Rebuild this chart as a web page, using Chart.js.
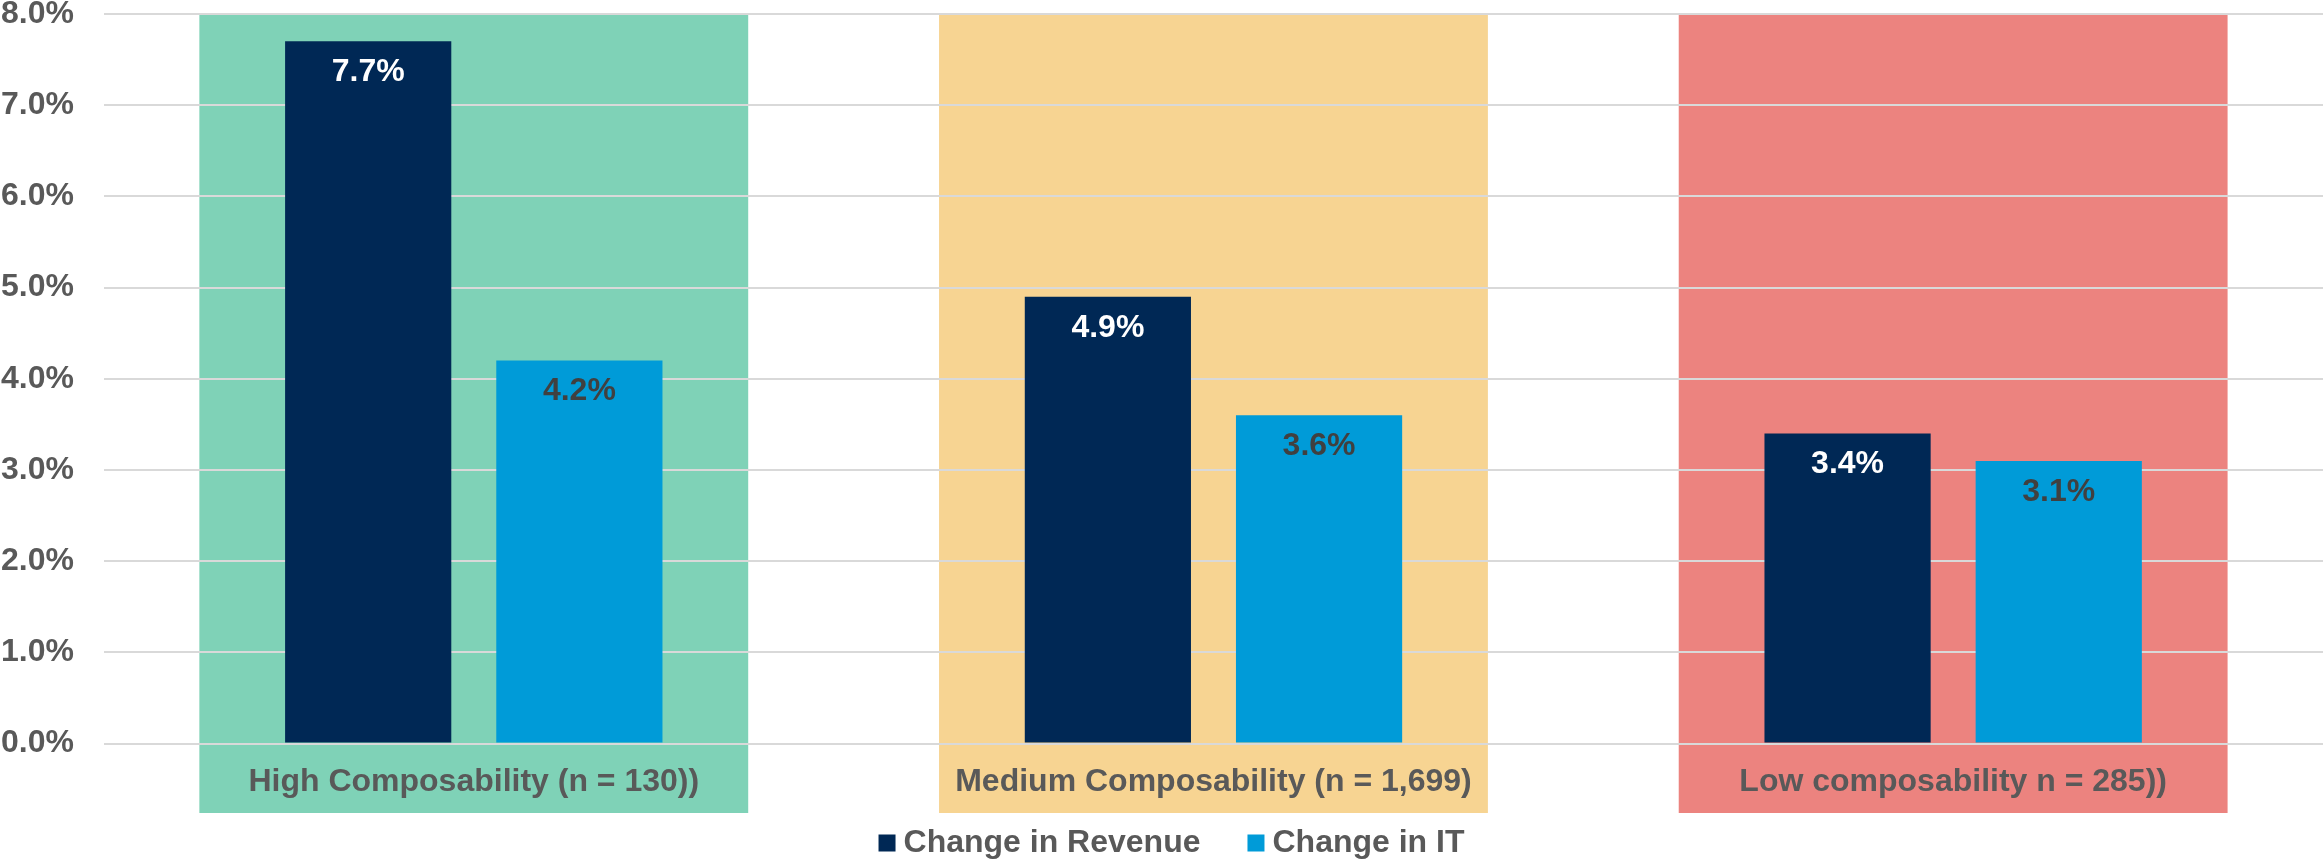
<!DOCTYPE html>
<html>
<head>
<meta charset="utf-8">
<title>Composability vs change in revenue and IT</title>
<script src="https://cdn.jsdelivr.net/npm/chart.js@4/dist/chart.umd.min.js"></script>
<style>
  html, body { margin: 0; padding: 0; background: #fff; }
  canvas { display: block; }
</style>
</head>
<body>
<canvas id="chart" width="2323" height="861"></canvas>
<script>
// Groups and their sample sizes
const categories = [
    'High Composability (n = 130))',
    'Medium Composability (n = 1,699)',
    'Low composability n = 285))'
];

// Percent change per group
const revenueChange = [7.7, 4.9, 3.4];
const itChange = [4.2, 3.6, 3.1];

// Y axis tick labels, 0% to 8%
const yTickLabels = ['0.0%', '1.0%', '2.0%', '3.0%', '4.0%', '5.0%', '6.0%', '7.0%', '8.0%'];

// Colored panel behind each group
const bandColors = ['#7fd2b7', '#f7d492', '#ec837f'];

const FONT = '"Liberation Sans", Arial, sans-serif';
const GRAY = '#595959';

// Paints a colored panel behind each category, running down over its label
const bandPlugin = {
    id: 'bands',
    beforeDraw(chart) {
        const { ctx, chartArea, scales } = chart;
        const x = scales.x;
        const step = x.width / categories.length;
        const half = step * 0.371;
        const bottom = x.bottom - 7;
        ctx.save();
        categories.forEach((c, i) => {
            const cx = x.getPixelForValue(i);
            ctx.fillStyle = bandColors[i];
            ctx.fillRect(cx - half, chartArea.top + 1, half * 2, bottom - chartArea.top - 1);
        });
        ctx.restore();
    }
};

// Writes each bar's value just inside its top edge
const valueLabelPlugin = {
    id: 'valueLabels',
    afterDatasetsDraw(chart) {
        const { ctx } = chart;
        ctx.save();
        ctx.font = 'bold 32px ' + FONT;
        ctx.textAlign = 'center';
        ctx.textBaseline = 'middle';
        chart.data.datasets.forEach((ds, di) => {
            const meta = chart.getDatasetMeta(di);
            meta.data.forEach((bar, i) => {
                ctx.fillStyle = ds.labelColor;
                ctx.fillText(ds.data[i].toFixed(1) + '%', bar.x, bar.y + 31);
            });
        });
        ctx.restore();
    }
};

// Legend row under the chart: small square, tight gap, wide gap between entries
const legendPlugin = {
    id: 'bottomLegend',
    afterDraw(chart) {
        const { ctx, width, height } = chart;
        const box = 17, boxGap = 8, itemGap = 47;
        ctx.save();
        ctx.font = 'bold 32px ' + FONT;
        ctx.textBaseline = 'middle';
        ctx.textAlign = 'left';
        const items = chart.data.datasets.map(ds => ({
            text: ds.label,
            color: ds.backgroundColor,
            w: ctx.measureText(ds.label).width
        }));
        const total = items.reduce((s, it) => s + box + boxGap + it.w, 0) + itemGap * (items.length - 1);
        let x = (width - total) / 2 + 10;
        const y = height - 18;
        items.forEach(it => {
            ctx.fillStyle = it.color;
            ctx.fillRect(x, y - box / 2, box, box);
            ctx.fillStyle = GRAY;
            ctx.fillText(it.text, x + box + boxGap, y);
            x += box + boxGap + it.w + itemGap;
        });
        ctx.restore();
    }
};

// Chart.js reserves the tick padding on both sides of the labels; keep only the inner one
const trimTickPadding = (scale) => {
    const pad = scale.options.ticks.padding;
    scale.width -= pad;
    scale.paddingTop -= pad;
    scale.paddingBottom -= pad;
};

const ctx = document.getElementById('chart').getContext('2d');
new Chart(ctx, {
    type: 'bar',
    data: {
        labels: categories,
        datasets: [
            {
                label: 'Change in Revenue',
                data: revenueChange,
                backgroundColor: '#002855',
                labelColor: '#ffffff',
                categoryPercentage: 0.571,
                barPercentage: 0.787
            },
            {
                label: 'Change in IT',
                data: itChange,
                backgroundColor: '#009bd8',
                labelColor: '#404040',
                categoryPercentage: 0.571,
                barPercentage: 0.787
            }
        ]
    },
    options: {
        responsive: false,
        devicePixelRatio: 1,
        animation: false,
        layout: { padding: { left: 1, right: 0, top: 0, bottom: 41 } },
        scales: {
            x: {
                grid: { display: false, drawTicks: false },
                border: { display: false },
                ticks: {
                    color: GRAY,
                    padding: 19,
                    font: { family: FONT, size: 32, weight: 'bold' }
                }
            },
            y: {
                min: 0,
                max: 8,
                border: { display: false },
                grid: { color: '#d9d9d9', lineWidth: 2, drawTicks: false },
                ticks: {
                    stepSize: 1,
                    color: GRAY,
                    padding: 30,
                    font: { family: FONT, size: 32, weight: 'bold', lineHeight: 0.875 },
                    callback: (v, i) => yTickLabels[i]
                },
                afterFit: trimTickPadding
            }
        },
        plugins: {
            tooltip: { enabled: false },
            legend: { display: false }
        }
    },
    plugins: [bandPlugin, valueLabelPlugin, legendPlugin]
});
</script>
</body>
</html>
